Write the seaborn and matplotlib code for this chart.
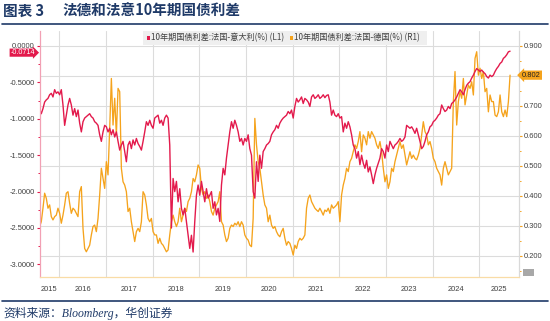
import numpy as np
import pandas as pd
import matplotlib
matplotlib.use("Agg")
import matplotlib.pyplot as plt
import matplotlib.dates as mdates
from matplotlib.patches import Rectangle
from matplotlib.lines import Line2D
from matplotlib.ticker import FormatStrFormatter, MultipleLocator, NullFormatter, FuncFormatter
from matplotlib.transforms import blended_transform_factory
import seaborn as sns

# ---------------- data ----------------
# 10Y spread France - Italy (%), left axis (L1)
fr_it_spread = [
    -0.87, -0.93, -0.86, -0.77, -0.74, -0.72, -0.67, -0.65, -0.70, -0.60,
    -0.65, -0.63, -0.67, -0.60, -0.81, -1.09, -0.95, -0.81, -0.72, -0.81,
    -0.95, -0.86, -0.97, -0.88, -1.06, -1.18, -1.04, -0.99, -0.97, -0.95,
    -0.93, -0.97, -0.99, -1.04, -1.06, -1.09, -1.22, -1.31, -1.18, -1.09,
    -1.11, -1.18, -1.13, -1.22, -1.15, -1.25, -1.18, -1.31, -1.43, -1.36,
    -1.31, -1.45, -1.59, -1.36, -1.31, -1.41, -1.29, -1.36, -1.27, -1.34,
    -1.38, -1.43, -1.31, -1.18, -1.04, -1.09, -1.02, -1.09, -1.13, -0.99,
    -0.97, -0.95,
    -1.06, -1.02, -1.09, -0.99, -0.95, -0.99, -1.36, -2.50, -1.82, -2.00,
    -1.86, -2.14, -1.96, -2.23, -2.32, -2.23, -2.41, -2.60, -2.78, -2.60,
    -2.83, -2.41, -2.05, -1.91, -2.05, -1.86, -2.00, -2.14, -1.96, -2.09,
    -2.05, -2.00, -2.23, -2.14, -2.32, -2.23, -2.41, -1.91, -1.68, -1.77,
    -1.54, -1.36, -1.18, -1.04, -1.13, -1.02, -1.09, -1.18, -1.31, -1.27,
    -1.36, -1.27, -1.31, -1.22, -1.41, -1.50, -2.00, -2.09, -1.59, -1.86,
    -1.50, -1.68, -1.45, -1.41, -1.36, -1.34, -1.31,
    -1.22, -1.18, -1.15, -1.09, -1.13, -1.06, -1.02, -0.99, -0.97, -0.95,
    -0.90, -0.93, -0.88, -0.99, -0.83, -0.72, -0.77, -0.74, -0.70, -0.79,
    -0.72, -0.74, -0.77, -0.83, -0.70, -0.67, -0.72, -0.70, -0.67, -0.72,
    -0.70, -0.67, -0.71, -0.68, -0.67, -0.77, -0.95, -0.88, -0.95, -0.97,
    -0.93, -0.99, -0.97, -1.18, -1.06, -1.13, -1.04, -1.11, -1.22, -1.36,
    -1.41, -1.54, -1.45, -1.63, -1.50, -1.61, -1.68, -1.57, -1.73, -1.66,
    -1.77, -1.89, -1.77, -1.68, -1.61, -1.54,
    -1.41, -1.45, -1.54, -1.36, -1.45, -1.31, -1.36, -1.41, -1.36, -1.34,
    -1.31, -1.27, -1.31, -1.29, -1.25, -1.09, -1.11, -1.13, -1.11, -1.15,
    -1.20, -1.13, -1.22, -1.31, -1.41, -1.38, -1.31, -1.22, -1.18, -1.11,
    -1.09, -1.04, -1.02, -0.99, -0.95, -0.93, -0.81, -0.86, -0.90, -0.88,
    -0.83, -0.86, -0.79, -0.77, -0.74, -0.70, -0.65, -0.60, -0.63, -0.67,
    -0.60, -0.54, -0.51, -0.49, -0.44, -0.40, -0.35, -0.31, -0.33, -0.35,
    -0.33, -0.36, -0.38, -0.42, -0.44, -0.40, -0.42, -0.40, -0.35, -0.31,
    -0.28, -0.24, -0.22, -0.17, -0.15, -0.12, -0.08, -0.0714,
]

# 10Y spread France - Germany (%), right axis (R1)
fr_de_spread = [
    0.298, 0.314, 0.359, 0.409, 0.392, 0.359, 0.370, 0.331, 0.320, 0.331,
    0.336, 0.359, 0.342, 0.309, 0.336, 0.370, 0.409, 0.414, 0.375, 0.342,
    0.359, 0.353, 0.342, 0.331, 0.414, 0.431, 0.292, 0.225, 0.214, 0.225,
    0.236, 0.270, 0.298, 0.303, 0.281, 0.325, 0.403, 0.492, 0.458, 0.425,
    0.514, 0.470, 0.625, 0.791, 0.636, 0.725, 0.603, 0.758, 0.747, 0.492,
    0.447, 0.436, 0.414, 0.348, 0.359, 0.314, 0.281, 0.248, 0.281, 0.292,
    0.281, 0.314, 0.414, 0.403, 0.370, 0.325, 0.314, 0.325, 0.281, 0.270,
    0.270, 0.242,
    0.259, 0.242, 0.236, 0.225, 0.214, 0.220, 0.270, 0.314, 0.336, 0.314,
    0.298, 0.314, 0.359, 0.314, 0.336, 0.359, 0.348, 0.381, 0.392, 0.414,
    0.458, 0.447, 0.470, 0.503, 0.492, 0.425, 0.403, 0.414, 0.392, 0.403,
    0.381, 0.348, 0.336, 0.359, 0.370, 0.381, 0.414, 0.314, 0.303, 0.270,
    0.248, 0.259, 0.292, 0.303, 0.298, 0.309, 0.303, 0.314, 0.298, 0.314,
    0.303, 0.270, 0.259, 0.253, 0.236, 0.231, 0.325, 0.658, 0.570, 0.514,
    0.492, 0.447, 0.403, 0.370, 0.359, 0.314, 0.336,
    0.303, 0.292, 0.298, 0.281, 0.270, 0.264, 0.281, 0.292, 0.259, 0.236,
    0.248, 0.242, 0.225, 0.203, 0.236, 0.225, 0.248, 0.259, 0.253, 0.259,
    0.270, 0.359, 0.392, 0.403, 0.381, 0.370, 0.359, 0.353, 0.348, 0.359,
    0.348, 0.336, 0.353, 0.348, 0.359, 0.342, 0.370, 0.359, 0.364, 0.370,
    0.381, 0.314, 0.403, 0.436, 0.458, 0.492, 0.481, 0.514, 0.525, 0.547,
    0.570, 0.558, 0.581, 0.614, 0.547, 0.603, 0.592, 0.570, 0.614, 0.592,
    0.614, 0.603, 0.592, 0.570, 0.558, 0.581,
    0.547, 0.492, 0.447, 0.470, 0.425, 0.447, 0.492, 0.481, 0.514, 0.536,
    0.558, 0.581, 0.558, 0.570, 0.536, 0.503, 0.525, 0.547, 0.525, 0.536,
    0.525, 0.520, 0.536, 0.558, 0.603, 0.647, 0.614, 0.603, 0.570, 0.581,
    0.558, 0.525, 0.514, 0.492, 0.481, 0.470, 0.436, 0.492, 0.514, 0.492,
    0.470, 0.481, 0.492, 0.714, 0.814, 0.636, 0.714, 0.747, 0.725, 0.791,
    0.703, 0.736, 0.769, 0.758, 0.780, 0.736, 0.858, 0.880, 0.802, 0.825,
    0.791, 0.814, 0.747, 0.758, 0.680, 0.736, 0.714, 0.714, 0.669, 0.664,
    0.680, 0.736, 0.680, 0.664, 0.686, 0.664, 0.714, 0.802,
]

start_date = "2015-07-31"
end_date = "2025-08-29"
view_start = "2015-07-30"
view_end = "2025-11-03"
years = list(range(2015, 2026))
left_ticks = [0.0, -0.5, -1.0, -1.5, -2.0, -2.5, -3.0]
right_ticks = [0.2, 0.3, 0.4, 0.5, 0.6, 0.7, 0.8, 0.9]
legend_labels = ["10年期国债利差:法国-意大利(%) (L1)", "10年期国债利差:法国-德国(%) (R1)"]
title_no = "图表 3"
title_text = "法德和法意10年期国债利差"
source_text = "资料来源：Bloomberg，华创证券"

# ---------------- style ----------------
RED = "#E31A4C"
ORANGE = "#F5A31C"
NAVY = "#1F3A68"
GRID = "#DCDCDC"
TXT = "#3F3F3F"

sns.set_style("white")
plt.rcParams["font.family"] = ["Liberation Sans", "Noto Sans CJK SC", "DejaVu Sans"]

W, H = 550, 321
fig = plt.figure(figsize=(W / 100, H / 100), dpi=100)


def fx(x):
    return x / W


def fy(y):
    return 1 - y / H


ax = fig.add_axes([fx(39.5), fy(276.7), (518.5 - 39.5) / W, (276.7 - 31) / H])
ax2 = ax.twinx()

df_red = pd.DataFrame({"date": pd.date_range(start_date, end_date, periods=len(fr_it_spread)),
                       "spread": fr_it_spread})
df_org = pd.DataFrame({"date": pd.date_range(start_date, end_date, periods=len(fr_de_spread)),
                       "spread": fr_de_spread})

sns.lineplot(data=df_red, x="date", y="spread", ax=ax, color=RED, linewidth=1.0, legend=False)
sns.lineplot(data=df_org, x="date", y="spread", ax=ax2, color=ORANGE, linewidth=0.95, legend=False)

ax.set_zorder(2)
ax2.set_zorder(1)
ax.patch.set_visible(False)

x0, x1 = pd.Timestamp(view_start), pd.Timestamp(view_end)
ax.set_xlim(x0, x1)
ax.set_ylim(-3.169, 0.206)
ax2.set_ylim(0.131, 0.949)
for a in (ax, ax2):
    a.set_xlabel("")
    a.set_ylabel("")

# y axes
last_r = fr_de_spread[-1]
ax.set_yticks(left_ticks)
ax.yaxis.set_major_formatter(FormatStrFormatter("%.4f"))
ax.yaxis.set_minor_locator(MultipleLocator(0.25))
ax2.set_yticks(right_ticks)
# the right-hand label hidden under the last-value tag is left blank
ax2.yaxis.set_major_formatter(FuncFormatter(
    lambda v, p: "" if abs(v - round(last_r, 1)) < 1e-9 else f"{v:.3f}"))
ax2.yaxis.set_minor_locator(MultipleLocator(0.05))

ax.tick_params(axis="y", which="major", direction="out", length=2.5, width=0.8,
               color=RED, labelsize=5.4, labelcolor=TXT, pad=1)
ax.tick_params(axis="y", which="minor", direction="out", length=1.4, width=0.7, color=RED)
ax2.tick_params(axis="y", which="major", direction="out", length=2.5, width=0.8,
                color=ORANGE, labelsize=5.4, labelcolor=TXT, pad=1)
ax2.tick_params(axis="y", which="minor", direction="out", length=1.4, width=0.7, color=ORANGE)

# x axis: year boundaries as major ticks, quarters as minor ticks
ax.xaxis.set_major_locator(mdates.YearLocator())
ax.xaxis.set_major_formatter(NullFormatter())
ax.xaxis.set_minor_locator(mdates.MonthLocator(bymonth=[4, 7, 10]))
ax.xaxis.set_minor_formatter(NullFormatter())
ax.tick_params(axis="x", which="major", direction="out", length=12, width=0.8, color="#FBE2B4")
ax.tick_params(axis="x", which="minor", direction="out", length=1.5, width=0.7, color="#F6C873")

# grid
ax2.yaxis.grid(True, color=GRID, linewidth=0.8)
ax.grid(False)
for y in years[1:]:
    ax2.axvline(mdates.date2num(pd.Timestamp(f"{y}-01-01")), color=GRID, linewidth=0.8, zorder=0)

# spines
for s in ("top", "right"):
    ax.spines[s].set_visible(False)
for s in ("top", "left", "bottom"):
    ax2.spines[s].set_visible(False)
ax.spines["left"].set_color("#F2A0B4")
ax.spines["left"].set_linewidth(0.9)
ax.spines["bottom"].set_color("#F9DCA6")
ax.spines["bottom"].set_linewidth(0.9)
ax2.spines["right"].set_color("#D9D9D9")
ax2.spines["right"].set_linewidth(0.9)

# year labels centred in the visible part of each year
btf = blended_transform_factory(ax.transData, fig.transFigure)
for y in years:
    a = max(x0, pd.Timestamp(f"{y}-01-01"))
    b = min(x1, pd.Timestamp(f"{y + 1}-01-01"))
    c = a + (b - a) / 2
    ax.text(mdates.date2num(c), fy(289.7), str(y), transform=btf, ha="center", va="center",
            fontsize=5.4, color=TXT)

# last value tags
tl = blended_transform_factory(fig.transFigure, ax.transData)
ax.text(fx(22.5), fr_it_spread[-1] - 0.02, f"{fr_it_spread[-1]:.4f}", transform=tl, ha="center",
        va="center", fontsize=5.2, color="white", clip_on=False,
        bbox=dict(boxstyle="rarrow,pad=0.08", fc=RED, ec="none"))
tr = blended_transform_factory(fig.transFigure, ax2.transData)
ax2.text(fx(531.5), last_r, f"{last_r:.3f}", transform=tr, ha="center",
         va="center", fontsize=5.4, color="#222222", clip_on=False,
         bbox=dict(boxstyle="larrow,pad=0.15", fc=ORANGE, ec="none"))

# legend (drawn as a grey strip above the plot)
fig.add_artist(Rectangle((fx(143), fy(45)), (427 - 143) / W, 14 / H, transform=fig.transFigure,
                         fc="#EFEFEF", ec="none", zorder=5))
fig.add_artist(Rectangle((fx(146.5), fy(39.5)), 3.4 / W, 3.4 / H, transform=fig.transFigure,
                         fc=RED, ec="none", zorder=6))
fig.add_artist(Rectangle((fx(289.5), fy(39.5)), 3.4 / W, 3.4 / H, transform=fig.transFigure,
                         fc=ORANGE, ec="none", zorder=6))
fig.text(fx(150.8), fy(38), legend_labels[0], ha="left", va="center", fontsize=5.9, color=TXT,
         family=["Noto Sans CJK SC", "DejaVu Sans"], zorder=7)
fig.text(fx(293.8), fy(38), legend_labels[1], ha="left", va="center", fontsize=5.9, color=TXT,
         family=["Noto Sans CJK SC", "DejaVu Sans"], zorder=7)

# small grey box bottom right
fig.add_artist(Rectangle((fx(523), fy(276)), 11 / W, 7 / H, transform=fig.transFigure,
                         fc="#A8A8A8", ec="none", zorder=5))

# title, rules, source
fig.text(fx(3), fy(10.5), title_no, ha="left", va="center", fontsize=10.5, fontweight="bold",
         color=NAVY, family=["Noto Sans CJK SC", "DejaVu Sans"])
fig.text(fx(62), fy(10.5), title_text, ha="left", va="center", fontsize=10.5, fontweight="bold",
         color=NAVY, family=["Noto Sans CJK SC", "DejaVu Sans"])
fig.add_artist(Line2D([fx(2), fx(548)], [fy(24), fy(24)], transform=fig.transFigure,
                      color=NAVY, linewidth=1.2))
fig.add_artist(Line2D([fx(2), fx(548)], [fy(301), fy(301)], transform=fig.transFigure,
                      color=NAVY, linewidth=1.2))
fig.text(fx(3.5), fy(313.5), source_text, ha="left", va="center", fontsize=8.5, style="italic",
         color=NAVY, family=["Liberation Serif", "Noto Sans CJK SC", "DejaVu Sans"])

fig.savefig("out.png", dpi=100, facecolor="white")
